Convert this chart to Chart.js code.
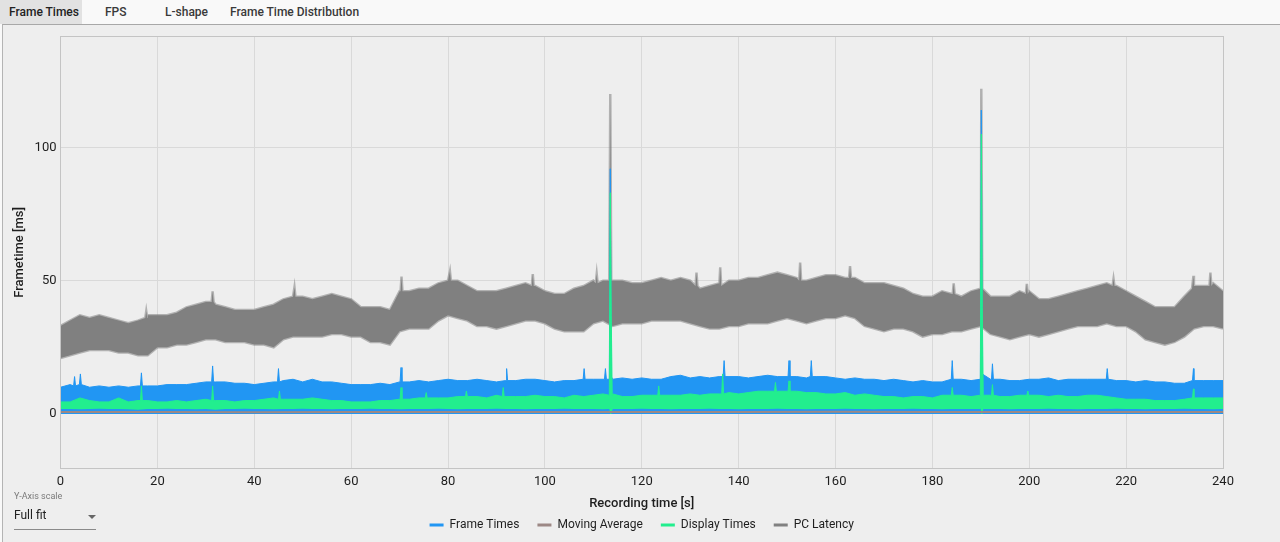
<!DOCTYPE html>
<html>
<head>
<meta charset="utf-8">
<script src="https://cdn.jsdelivr.net/npm/chart.js@4.4.1/dist/chart.umd.min.js"></script>
<style>
html,body{margin:0;padding:0;width:1280px;height:542px;overflow:hidden;background:#f9f9f9;font-family:Roboto,"Noto Sans",sans-serif;}
#tabs{position:absolute;left:0;top:0;width:1280px;height:24px;}
.tab{position:absolute;top:0;height:24px;line-height:24px;font-size:12px;font-weight:500;color:#3a3a3a;white-space:nowrap;}
.tab.sel{background:#e2e2e2;padding:0 3px 0 9px;left:0;color:#222;}
#panel{position:absolute;left:2px;top:24px;width:1278px;height:518px;background:#eeeeee;border-top:1px solid #a8a8a8;border-left:1px solid #b4b4b4;box-sizing:border-box;}
#wrap{position:absolute;left:0;top:25px;width:1280px;height:517px;}
#ylab{position:absolute;left:14px;top:491px;font-size:9px;color:#7a7a7a;}
#yval{position:absolute;left:14px;top:508px;font-size:12px;color:#222;}
#arrow{position:absolute;left:88px;top:515px;width:0;height:0;border-left:4px solid transparent;border-right:4px solid transparent;border-top:4px solid #666;}
#uline{position:absolute;left:14px;top:529px;width:82px;height:1px;background:#8a8a8a;}
</style>
</head>
<body>
<div id="tabs">
  <div class="tab sel">Frame Times</div>
  <div class="tab" style="left:105px">FPS</div>
  <div class="tab" style="left:165px">L-shape</div>
  <div class="tab" style="left:230px">Frame Time Distribution</div>
</div>
<div id="panel"></div>
<div id="wrap"><canvas id="c" width="1280" height="517"></canvas></div>
<div id="ylab">Y-Axis scale</div>
<div id="yval">Full fit</div>
<div id="arrow"></div>
<div id="uline"></div>
<script>
// ---- Data ----
// sampling grid of the envelopes: every 2 s from 0 to 240 s
const sampleStep = 2;
const sampleCount = 121;
const sampleTimes = Array.from({length: sampleCount}, (_, i) => i * sampleStep);

const seriesNames = ["Frame Times", "Moving Average", "Display Times", "PC Latency"];

// PC Latency band (upper / lower envelope, ms)
const pcLatencyHigh = [
 33,35,37,36,37,36,35,34,35,37,
 37,37,38,40,41,42,41,40,39,39,
 39,40,41,43,44,44,43,44,45,44,
 43,40,40,40,39,46,46,47,47,49,
 50,50,48,46,46,46,47,48,49,48,
 46,45,45,47,48,50,50,50,50,49,
 49,50,51,50,51,50,47,48,49,50,
 50,51,51,52,53,52,51,50,51,52,
 52,51,51,49,49,49,48,47,45,44,
 44,46,45,44,46,48,44,44,44,46,
 46,43,43,44,45,46,47,48,49,48,
 46,44,42,40,40,40,44,48,48,49,
 46];
const pcLatencyLow = [
 21,22,23,24,24,24,23,23,22,22,
 25,25,26,26,27,28,28,27,27,27,
 26,26,25,28,29,29,29,29,30,30,
 29,29,27,27,26,31,32,32,32,35,
 37,36,35,33,33,32,33,34,35,35,
 34,32,31,31,31,34,35,33,34,34,
 34,35,35,35,35,34,33,32,32,33,
 33,34,34,34,35,36,35,34,35,36,
 36,37,36,33,32,31,32,32,31,29,
 30,30,31,31,32,33,30,29,28,29,
 30,29,30,31,32,33,33,33,34,33,
 33,31,28,27,26,27,29,32,33,33,
 32];
// [time s, ms] narrow spikes of PC Latency
const pcLatencySpikes = [
 [17.5,36],[17.7,38.5],[17.9,36],
 [31.2,42],[31.4,46],[31.6,42],
 [48.1,44],[48.3,47.5],[48.5,44],
 [70.2,46],[70.4,51.5],[70.6,46],
 [80.2,50],[80.4,53.5],[80.6,50],
 [97.3,48],[97.5,52.5],[97.7,48],
 [110.5,49],[110.7,52.5],[110.9,49],
 [113.3,50],[113.5,120],[113.7,50],
 [131.1,48],[131.3,53],[131.5,48],
 [136.0,48],[136.2,55],[136.4,48],
 [152.5,50],[152.7,56.8],[152.9,50],
 [162.8,51],[163.0,55.5],[163.2,51],
 [184.2,45],[184.4,49],[184.6,45],
 [189.9,47],[190.1,122],[190.3,47],
 [199.3,45],[199.5,48.8],[199.7,45],
 [217.2,48],[217.4,50.6],[217.6,48],
 [233.6,47],[233.9,51.8],[234.1,48],
 [237.2,48],[237.4,53],[237.6,48]];

// Frame Times band top (ms)
const frameTimesHigh = [
 10,11,11,10,10.5,10,10.5,10,10.5,10.5,
 10.5,11,11,11,11.5,12,12,12,11.5,11.5,
 11,11.5,12,12.5,13,12,13,12,12,11.5,
 11,11,11,11.5,11,12,12,12.5,12,12.5,
 13,12.5,12.5,13,12.5,12,12.5,12.5,13,13,
 12.5,12,12.5,12.5,13,13,13,13,13.5,13,
 13.5,13,13,14,14.5,13.5,14,13.5,14,14,
 14,13.5,14,14.5,14,14,14,13.5,14,14,
 13.5,13,13.5,13,13,12.5,13,12.5,12,12.5,
 12,12,13,13,12.5,13,13,13,12.5,12.5,
 13,13,13.5,12.5,13,13,13,13,13,12.5,
 12.5,12,12.5,12,12,11.5,11.5,12.5,12.5,12.5,
 12.5];
const frameTimesSpikes = [
 [2.7,10.5],[2.9,14],[3.1,10.5],
 [3.9,11],[4.1,15],[4.3,11],
 [16.5,10.5],[16.7,15.4],[16.9,10.5],
 [31.2,12],[31.4,18],[31.6,12],
 [44.8,12],[45.0,17],[45.2,12],
 [70.1,12],[70.3,17.4],[70.5,12],
 [91.9,12.5],[92.1,17],[92.3,12.5],
 [107.9,13],[108.1,17],[108.3,13],
 [112.3,13],[112.5,17],[112.7,13],
 [113.3,13],[113.5,92],[113.7,14],
 [136.8,14],[137.0,20],[137.2,14],
 [150.2,14],[150.4,20],[150.6,14],
 [154.8,14],[155.0,20],[155.2,14],
 [183.9,13],[184.1,20],[184.3,13],
 [189.9,13],[190.1,114],[190.3,15],
 [192.2,13],[192.4,18.8],[192.6,13],
 [215.9,13],[216.1,17],[216.3,13],
 [233.7,12.5],[233.9,17],[234.1,12.5]];

// Display Times band (upper / lower envelope, ms)
const displayTimesHigh = [
 4.5,4.5,6,5,4.5,4.5,6,4.5,5,5,
 4.5,4.5,5,4.5,5,5.5,5,5,4.5,5,
 5,5.5,6,5.5,5.5,5.5,6,5.5,5,5,
 4.5,4.5,4.5,5,5,5.5,5.5,6,6,6,
 6,6.5,6.5,6.5,6,7,6.5,6.5,6.5,7,
 6.5,6.5,6,7,6.5,7,7.5,7.5,6.5,6.5,
 7,7,7,7,7,7.5,7,7.5,7.5,8,
 7.5,8,8.5,8.5,8.5,8.5,8.5,8,8,7.5,
 7.5,8,7,7.5,7,6.5,6.5,6,6.5,6.5,
 6,7,7,7,6.5,7,7,6.5,6.5,7,
 7,7,6.5,7,6.5,6.5,7,7,6.5,6,
 5.5,5.5,5.5,5,5,5,5.5,6,6,6,
 6];
const displayTimesLow = [
 1.8,1.8,1.7,1.8,1.9,1.8,1.8,1.7,1.6,1.8,
 1.8,1.9,1.8,1.8,1.7,1.8,1.6,1.8,1.8,1.9,
 1.8,1.8,1.7,1.8,1.8,1.9,1.8,1.8,1.7,1.8,
 1.8,1.8,1.9,1.8,1.8,1.7,1.8,1.8,1.8,1.9,
 1.8,1.7,1.8,1.8,1.8,1.9,1.8,1.8,1.7,1.8,
 1.8,1.8,1.9,1.8,1.8,1.8,1.7,1.8,1.8,1.8,
 1.9,1.8,1.8,1.7,1.8,1.8,1.8,1.9,1.8,1.8,
 1.7,1.8,1.8,1.8,1.9,1.8,1.8,1.7,1.8,1.8,
 1.8,1.9,1.8,1.8,1.7,1.8,1.8,1.8,1.9,1.8,
 1.8,1.7,1.8,1.8,1.8,1.9,1.8,1.8,1.7,1.8,
 1.8,1.8,1.9,1.8,1.8,1.7,1.8,1.8,1.8,1.9,
 1.8,1.8,1.7,1.8,1.8,1.8,1.9,1.8,1.8,1.7,
 1.8];
const displayTimesSpikes = [
 [16.5,5],[16.7,10.5],[16.9,5],
 [31.2,5],[31.4,10.5],[31.6,5],
 [45.0,5.5],[45.2,8.6],[45.4,5.5],
 [70.1,5.5],[70.3,9.9],[70.5,5.5],
 [75.3,6],[75.5,8],[75.7,6],
 [83.6,6.5],[83.8,8.6],[84.1,6.5],
 [91.2,6.5],[91.4,9.9],[91.6,6.5],
 [113.3,7],[113.5,83],[113.7,37],[113.9,7],
 [123.3,7],[123.5,10.5],[123.7,7],
 [136.5,7.5],[136.7,15],[136.9,7.5],
 [147.4,8.5],[147.6,11.8],[147.8,8.5],
 [150.2,8.5],[150.4,12.4],[150.6,8.5],
 [183.9,7],[184.1,9.9],[184.3,7],
 [189.9,7],[190.1,105],[190.3,40],[190.5,7],
 [192.2,7],[192.4,11],[192.6,7],
 [199.5,7],[199.7,8.6],[199.9,7],
 [233.7,6],[233.9,9.4],[234.1,6]];
const displayTimesLowSpikes = [
 [113.3,1.8],[113.5,0],[113.7,0],[113.9,1.8],
 [189.9,1.8],[190.1,0],[190.3,0],[190.5,1.8]];

// Moving average (ms)
const movingAverageTimes = [0,20,40,60,80,100,120,140,160,180,200,220,240];
const movingAverage = [0.7,0.7,0.6,0.7,0.7,0.7,0.7,0.7,0.8,0.7,0.7,0.7,0.7];

// Axis ticks
const xTicks = [0,20,40,60,80,100,120,140,160,180,200,220,240];
const yTicks = [0,50,100];
const yMin = -20.3, yMax = 141.5;

// ---- Build points ----
function merge(base, spikes) {
  const pts = sampleTimes.map((t, i) => ({x: t, y: base[i]}));
  spikes.forEach(([t, v]) => pts.push({x: t, y: v}));
  return pts.sort((a, b) => a.x - b.x);
}

const BLUE = '#2196F3', BROWN = '#9c8885', GREEN = '#22EE8E', GREY = '#808080';
const GREY_EDGE = 'rgba(128,128,128,0.55)';
const FONT = 'Roboto';

const datasets = [
  { label: seriesNames[0], data: merge(frameTimesHigh, frameTimesSpikes), borderColor: BLUE, backgroundColor: BLUE,
    borderWidth: 1, fill: 'origin', order: 2 },
  { label: seriesNames[1], data: movingAverageTimes.map((t, i) => ({x: t, y: movingAverage[i]})), borderColor: BROWN,
    backgroundColor: BROWN, borderWidth: 2, fill: false, order: 0 },
  { label: seriesNames[2], data: merge(displayTimesHigh, displayTimesSpikes), borderColor: GREEN, backgroundColor: GREEN,
    borderWidth: 1, fill: 4, order: 1 },
  { label: seriesNames[3], data: merge(pcLatencyHigh, pcLatencySpikes), borderColor: GREY_EDGE, backgroundColor: GREY,
    borderWidth: 2.5, fill: 5, order: 3 },
  { label: 'dlow', data: merge(displayTimesLow, displayTimesLowSpikes), borderColor: GREEN, backgroundColor: GREEN,
    borderWidth: 0, fill: false, order: 1 },
  { label: 'plow', data: merge(pcLatencyLow, []), borderColor: GREY_EDGE, backgroundColor: GREY,
    borderWidth: 2.5, fill: false, order: 3 }
];

const framePlugin = {
  id: 'frame',
  afterDatasetsDraw(chart) {
    const {ctx, chartArea: a} = chart;
    ctx.save();
    ctx.strokeStyle = '#c4c4c4';
    ctx.lineWidth = 1;
    ctx.strokeRect(Math.round(a.left) - 0.5, Math.round(a.top) - 0.5, Math.round(a.right - a.left) + 1, Math.round(a.bottom - a.top) + 1);
    ctx.restore();
  }
};

new Chart(document.getElementById('c'), {
  type: 'line',
  data: { datasets },
  plugins: [framePlugin],
  options: {
    responsive: false,
    animation: false,
    events: [],
    layout: { padding: { left: 8, right: 57, top: 10, bottom: 11 } },
    elements: { point: { radius: 0 }, line: { tension: 0 } },
    scales: {
      x: {
        type: 'linear', min: 0, max: 240,
        afterBuildTicks: s => { s.ticks = xTicks.map(v => ({value: v})); },
        afterFit: s => { s.height = 33; },
        grid: { color: '#d9d9d9', drawTicks: false },
        border: { display: false },
        ticks: { padding: 6, color: '#1e1e1e', font: { family: FONT, size: 13 } },
        title: { display: true, text: 'Recording time [s]', color: '#1e1e1e',
                 font: { family: FONT, size: 13, weight: '500' }, padding: { top: 0, bottom: -11 } }
      },
      y: {
        type: 'linear', min: yMin, max: yMax,
        afterBuildTicks: s => { s.ticks = yTicks.map(v => ({value: v})); },
        grid: { color: '#d9d9d9', drawTicks: false },
        border: { display: false },
        ticks: { padding: 4, color: '#1e1e1e', font: { family: FONT, size: 13 } },
        title: { display: true, text: 'Frametime [ms]', color: '#1e1e1e',
                 font: { family: FONT, size: 13, weight: '500' }, padding: { top: 4, bottom: 3 } }
      }
    },
    plugins: {
      tooltip: { enabled: false },
      legend: {
        position: 'bottom',
        fullSize: false,
        maxHeight: 30,
        labels: {
          boxWidth: 14, boxHeight: 3, padding: 18, color: '#1e1e1e',
          font: { family: FONT, size: 12 },
          filter: item => item.datasetIndex < 4,
          sort: (a, b) => a.datasetIndex - b.datasetIndex,
          generateLabels: chart => Chart.defaults.plugins.legend.labels.generateLabels(chart)
            .map(l => Object.assign(l, { lineWidth: 0, fillStyle: chart.data.datasets[l.datasetIndex].backgroundColor }))
        }
      }
    }
  }
});
</script>
</body>
</html>
